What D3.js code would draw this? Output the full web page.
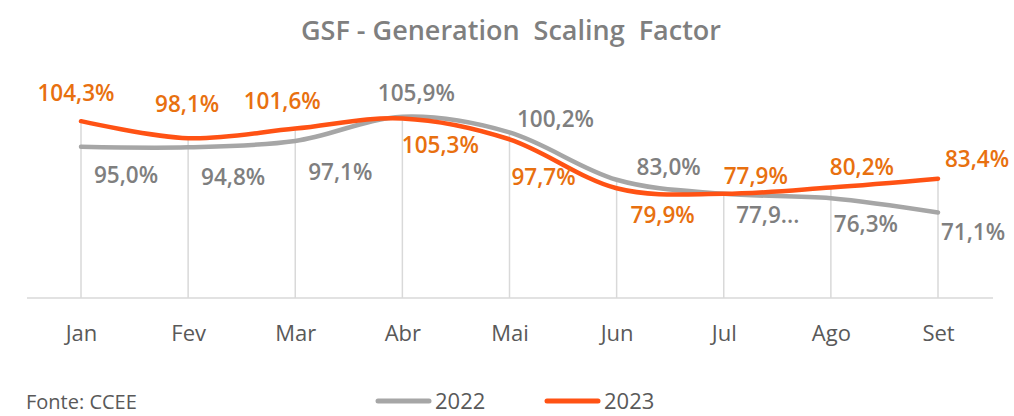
<!DOCTYPE html>
<html>
<head>
<meta charset="utf-8">
<script src="https://cdn.jsdelivr.net/npm/d3@7"></script>
<style>
  body { margin: 0; background: #fff; }
  svg { display: block; font-family: "Open Sans", sans-serif; }
</style>
</head>
<body>
<svg></svg>
<script>
const width = 1014;
const height = 416;

const months = ["Jan", "Fev", "Mar", "Abr", "Mai", "Jun", "Jul", "Ago", "Set"];
const gsf2022 = [95.0, 94.8, 97.1, 105.9, 100.2, 83.0, 77.9, 76.3, 71.1];
const gsf2023 = [104.3, 98.1, 101.6, 105.3, 97.7, 79.9, 77.9, 80.2, 83.4];
const labels2022 = ["95,0%", "94,8%", "97,1%", "105,9%", "100,2%", "83,0%", "77,9...", "76,3%", "71,1%"];
const labels2023 = ["104,3%", "98,1%", "101,6%", "105,3%", "97,7%", "79,9%", "77,9%", "80,2%", "83,4%"];

// label offsets from their point (layout only)
const off2022 = [[45, 28], [45, 30], [45, 31], [14, -24], [46, -13], [52, -13], [44, 21], [35, 26], [35, 20]];
const off2023 = [[-5, -28], [-1, -34], [-13, -27], [38, 27], [34, 38], [46, 27], [32, -18], [31, -20], [39, -20]];

const svg = d3.select("svg").attr("width", width).attr("height", height);

const x = d3.scalePoint().domain(months).range([81, 938]);
const y = d3.scaleLinear().domain([40, 120]).range([298, 78]);

const grey = "#a6a6a6";
const orange = "#ff5214";
const orangeText = "#e8700f";
const greyText = "#7f7f7f";

// title
svg.append("text")
  .attr("x", 511)
  .attr("y", 40)
  .attr("text-anchor", "middle")
  .style("white-space", "pre")
  .style("font-size", "27px")
  .style("font-weight", 600)
  .style("fill", greyText)
  .text("GSF - Generation  Scaling  Factor");

// drop lines
svg.append("g")
  .selectAll("line")
  .data(months)
  .join("line")
  .attr("x1", d => x(d))
  .attr("x2", d => x(d))
  .attr("y1", y(40))
  .attr("y2", (d, i) => y(Math.max(gsf2022[i], gsf2023[i])))
  .style("stroke", "#d9d9d9")
  .style("stroke-width", 1.5);

// baseline
svg.append("line")
  .attr("x1", 27)
  .attr("x2", 993)
  .attr("y1", y(40))
  .attr("y2", y(40))
  .style("stroke", "#d9d9d9")
  .style("stroke-width", 1.5);

// month axis labels
let xAxis = svg.append("g")
  .attr("transform", `translate(0, ${y(40)})`)
  .call(d3.axisBottom(x).tickSize(0).tickPadding(27));
xAxis.select(".domain").remove();
xAxis.selectAll("text")
  .style("font-family", "'Open Sans', sans-serif")
  .style("font-size", "22px")
  .style("fill", "#595959");

const line = d3.line()
  .x((d, i) => x(months[i]))
  .y(d => y(d))
  .curve(d3.curveCatmullRom.alpha(0));

svg.append("path")
  .attr("d", line(gsf2022))
  .style("fill", "none")
  .style("stroke", grey)
  .style("stroke-width", 4.5)
  .style("stroke-linecap", "round");

svg.append("path")
  .attr("d", line(gsf2023))
  .style("fill", "none")
  .style("stroke", orange)
  .style("stroke-width", 4.5)
  .style("stroke-linecap", "round");

function drawLabels(values, texts, offsets, color) {
  svg.append("g")
    .selectAll("text")
    .data(values)
    .join("text")
    .attr("x", (d, i) => x(months[i]) + offsets[i][0])
    .attr("y", (d, i) => y(d) + offsets[i][1])
    .attr("dy", "0.35em")
    .attr("text-anchor", "middle")
    .style("font-size", "22.5px")
    .style("font-weight", 600)
    .style("fill", color)
    .text((d, i) => texts[i]);
}

drawLabels(gsf2022, labels2022, off2022, greyText);
drawLabels(gsf2023, labels2023, off2023, orangeText);

// source
svg.append("text")
  .attr("x", 26)
  .attr("y", 409)
  .style("font-size", "20px")
  .style("fill", "#595959")
  .text("Fonte: CCEE");

// legend
const legend = [{ name: "2022", color: grey, x: 376 }, { name: "2023", color: orange, x: 545 }];
let lg = svg.append("g").selectAll("g").data(legend).join("g")
  .attr("transform", d => `translate(${d.x}, 401)`);
lg.append("line")
  .attr("x1", 2).attr("x2", 53)
  .style("stroke", d => d.color)
  .style("stroke-width", 5)
  .style("stroke-linecap", "round");
lg.append("text")
  .attr("x", 59)
  .attr("dy", "0.35em")
  .style("font-size", "22px")
  .style("fill", "#595959")
  .text(d => d.name);
</script>
</body>
</html>
